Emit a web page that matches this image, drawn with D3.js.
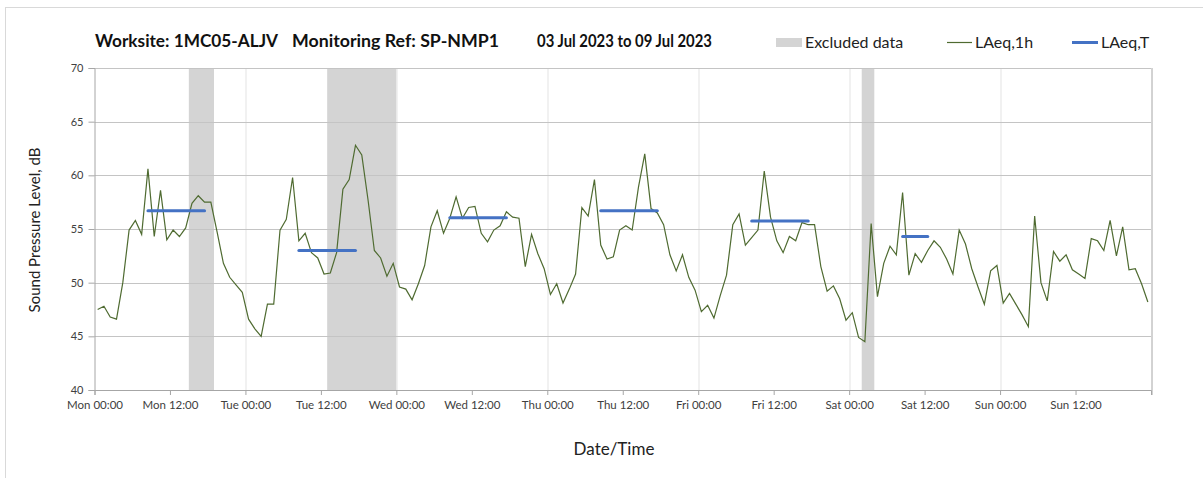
<!DOCTYPE html>
<html>
<head>
<meta charset="utf-8">
<script src="https://cdn.jsdelivr.net/npm/d3@7"></script>
<style>
  body { margin: 0; background: #fff; }
  text { font-family: Lato, "Open Sans", sans-serif; }
</style>
</head>
<body>
<div id="chart"></div>
<script>
// hourly LAeq,1h values, Mon 00:00 .. Sun 23:00 (one per hour)
let laeq1h = [
  47.5, 47.8, 46.8, 46.6, 50.0, 54.9, 55.8, 54.5, 60.6, 54.3, 58.6, 54.0,
  54.9, 54.3, 55.1, 57.4, 58.1, 57.5, 57.5, 54.7, 51.8, 50.5, 49.8, 49.1,
  46.6, 45.7, 45.0, 48.0, 48.0, 54.9, 55.9, 59.8, 53.9, 54.6, 52.8, 52.3,
  50.8, 50.9, 52.8, 58.7, 59.6, 62.8, 61.9, 57.7, 53.0, 52.3, 50.6, 51.8,
  49.6, 49.4, 48.4, 49.9, 51.6, 55.2, 56.7, 54.6, 56.0, 58.0, 56.0, 57.0,
  57.1, 54.6, 53.8, 54.9, 55.3, 56.6, 56.1, 56.0, 51.5, 54.5, 52.7, 51.3,
  48.9, 49.9, 48.1, 49.4, 50.8, 57.0, 56.2, 59.6, 53.5, 52.2, 52.4, 54.9,
  55.3, 54.9, 58.9, 62.0, 56.9, 56.5, 55.4, 52.6, 51.1, 52.6, 50.5, 49.3,
  47.3, 47.9, 46.7, 48.8, 50.7, 55.4, 56.4, 53.5, 54.2, 54.9, 60.4, 56.1,
  53.9, 52.8, 54.3, 53.9, 55.6, 55.4, 55.4, 51.5, 49.2, 49.7, 48.5, 46.5,
  47.2, 44.9, 44.5, 55.5, 48.7, 51.8, 53.4, 52.6, 58.4, 50.7, 52.7, 51.9,
  53.0, 53.9, 53.3, 52.2, 50.8, 54.9, 53.6, 51.3, 49.6, 48.0, 51.1, 51.6,
  48.1, 49.0, 48.0, 47.0, 45.9, 56.2, 50.0, 48.3, 52.9, 52.0, 52.6, 51.2,
  50.8, 50.4, 54.1, 53.9, 53.0, 55.8, 52.5, 55.2, 51.2, 51.3, 49.9, 48.2
]

// LAeq,T periods: first and last hour index, level
let periodStart = [8, 32, 56, 80, 104, 128]
let periodEnd = [17, 41, 65, 89, 113, 132]
let periodLevel = [56.7, 53.0, 56.05, 56.7, 55.75, 54.3]

// excluded data bands, hours from Mon 00:00
let excludedFrom = [15, 37, 122]
let excludedTo = [19, 48, 124]

let dayNames = ["Mon", "Tue", "Wed", "Thu", "Fri", "Sat", "Sun"]
let yTicks = [40, 45, 50, 55, 60, 65, 70]
let titleParts = ["Worksite: 1MC05-ALJV", "Monitoring Ref: SP-NMP1", "03 Jul 2023 to 09 Jul 2023"]

let svgWidth = 1203
let svgHeight = 478
let margin = { top: 68, right: 52, bottom: 88, left: 94.5 }
let chartWidth = svgWidth - margin.left - margin.right
let chartHeight = svgHeight - margin.top - margin.bottom

let svg = d3.select("#chart")
  .append("svg")
  .attr("width", svgWidth)
  .attr("height", svgHeight)

// outer chart frame
svg.append("rect")
  .attr("x", 5.5).attr("y", 7.5)
  .attr("width", 1300).attr("height", 600)
  .attr("fill", "none")
  .attr("stroke", "#d9d9d9")

let g = svg.append("g")
  .attr("transform", `translate(${margin.left},${margin.top})`)

let x = d3.scaleLinear().domain([0, 168]).range([0, chartWidth])
let y = d3.scaleLinear().domain([40, 70]).range([chartHeight, 0])

// excluded bands
g.selectAll("rect.excl")
  .data(excludedFrom)
  .enter()
  .append("rect")
  .attr("class", "excl")
  .attr("x", (d, i) => x(d))
  .attr("width", (d, i) => x(excludedTo[i]) - x(d))
  .attr("y", 0)
  .attr("height", chartHeight)
  .attr("fill", "#d4d4d4")

// vertical day gridlines
let dayTicks = d3.range(0, 169, 24)
g.selectAll("line.vgrid")
  .data(dayTicks.slice(1, -1))
  .enter()
  .append("line")
  .attr("x1", d => Math.round(x(d)) + 0.5)
  .attr("x2", d => Math.round(x(d)) + 0.5)
  .attr("y1", 0)
  .attr("y2", chartHeight)
  .attr("stroke", "#e3e3e3")

// horizontal gridlines
g.selectAll("line.hgrid")
  .data(yTicks.slice(1))
  .enter()
  .append("line")
  .attr("x1", 0)
  .attr("x2", chartWidth)
  .attr("y1", d => Math.round(y(d)) + 0.5)
  .attr("y2", d => Math.round(y(d)) + 0.5)
  .attr("stroke", "#c4c4c4")

// right border of plot
g.append("line")
  .attr("x1", Math.round(chartWidth) + 0.5)
  .attr("x2", Math.round(chartWidth) + 0.5)
  .attr("y1", 0)
  .attr("y2", chartHeight + 5)
  .attr("stroke", "#a6a6a6")

// axes
let xAxis = d3.axisBottom(x)
  .tickValues(d3.range(0, 168, 12))
  .tickSize(5)
  .tickFormat(d => dayNames[Math.floor(d / 24)] + (d % 24 == 0 ? " 00:00" : " 12:00"))
let xg = g.append("g")
  .attr("transform", `translate(0,${chartHeight})`)
  .call(xAxis)
xg.select(".domain").attr("stroke", "#a6a6a6")
xg.selectAll(".tick line").attr("stroke", "#a6a6a6")
xg.selectAll(".tick text")
  .attr("fill", "#404040")
  .attr("font-size", "11.5px")
  .attr("dy", "0.95em")

let yAxis = d3.axisLeft(y)
  .tickValues(yTicks)
  .tickSize(6)
  .tickFormat(d3.format("d"))
let yg = g.append("g").call(yAxis)
yg.select(".domain").attr("stroke", "#a6a6a6")
yg.selectAll(".tick line").attr("stroke", "#a6a6a6")
yg.selectAll(".tick text")
  .attr("fill", "#404040")
  .attr("font-size", "11px")
  .attr("x", -11)

// LAeq,1h line
let line = d3.line()
  .x((d, i) => x(i + 0.5))
  .y(d => y(d))
g.append("path")
  .datum(laeq1h)
  .attr("d", line)
  .attr("fill", "none")
  .attr("stroke", "#4f6b31")
  .attr("stroke-width", 1.2)

// LAeq,T segments
g.selectAll("line.period")
  .data(periodLevel)
  .enter()
  .append("line")
  .attr("x1", (d, i) => x(periodStart[i] + 0.5))
  .attr("x2", (d, i) => x(periodEnd[i] + 0.5))
  .attr("y1", d => y(d))
  .attr("y2", d => y(d))
  .attr("stroke", "#4472c4")
  .attr("stroke-width", 3)
  .attr("stroke-linecap", "round")

// axis titles
svg.append("text")
  .attr("transform", "translate(40,230) rotate(-90)")
  .attr("text-anchor", "middle")
  .attr("font-size", "15px")
  .attr("fill", "#222")
  .text("Sound Pressure Level, dB")
svg.append("text")
  .attr("x", 614).attr("y", 455)
  .attr("text-anchor", "middle")
  .attr("font-size", "17px")
  .attr("fill", "#222")
  .text("Date/Time")

// title, three parts spaced like the original
let titleX = [95, 292, 537]
let titleW = [183, 207, 175]
svg.selectAll("text.title")
  .data(titleParts)
  .enter()
  .append("text")
  .attr("class", "title")
  .attr("x", (d, i) => titleX[i])
  .attr("y", 47)
  .attr("font-size", "16.5px")
  .attr("font-weight", "bold")
  .attr("fill", "#111")
  .attr("textLength", (d, i) => titleW[i])
  .attr("lengthAdjust", "spacingAndGlyphs")
  .text(d => d)

// legend
let legend = svg.append("g")
legend.append("rect")
  .attr("x", 776).attr("y", 38).attr("width", 26).attr("height", 9)
  .attr("fill", "#d4d4d4")
legend.append("text").attr("x", 805).attr("y", 48)
  .attr("font-size", "16px").attr("fill", "#222").text("Excluded data")
legend.append("line")
  .attr("x1", 947).attr("x2", 972).attr("y1", 42.5).attr("y2", 42.5)
  .attr("stroke", "#4f6b31").attr("stroke-width", 1.2)
legend.append("text").attr("x", 975).attr("y", 48)
  .attr("font-size", "16px").attr("fill", "#222").text("LAeq,1h")
legend.append("line")
  .attr("x1", 1072).attr("x2", 1098).attr("y1", 42.5).attr("y2", 42.5)
  .attr("stroke", "#4472c4").attr("stroke-width", 3)
legend.append("text").attr("x", 1101).attr("y", 48)
  .attr("font-size", "16px").attr("fill", "#222").text("LAeq,T")
</script>
</body>
</html>
